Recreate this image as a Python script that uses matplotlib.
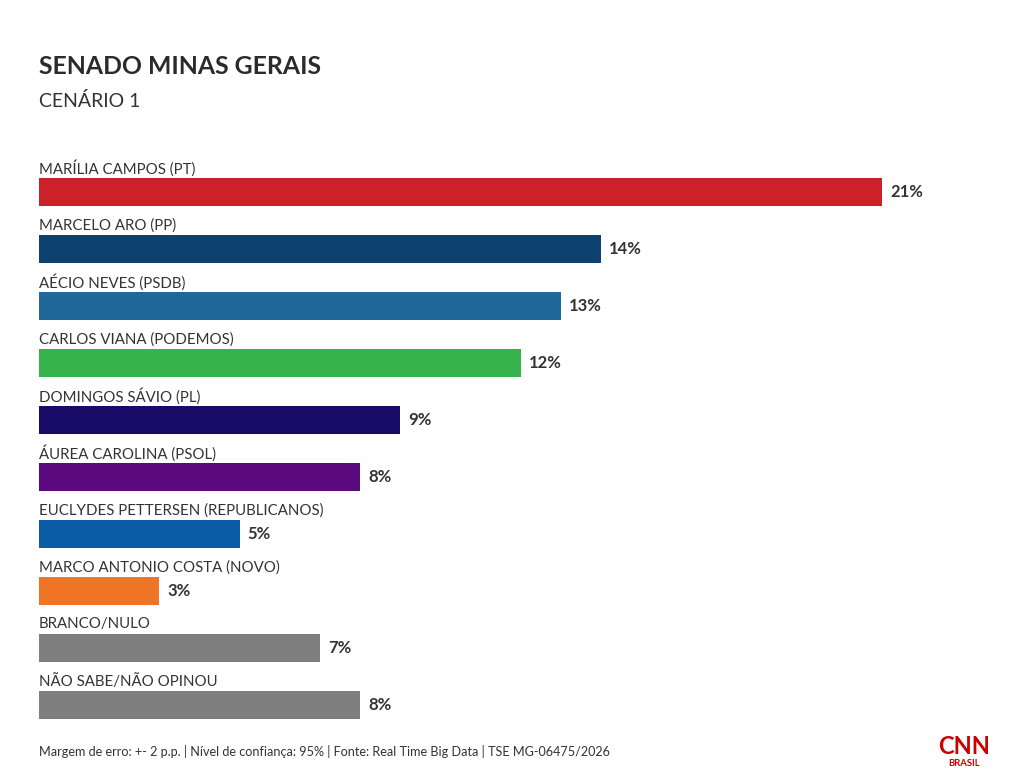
import matplotlib
matplotlib.use("Agg")
import matplotlib.pyplot as plt

plt.rcParams['font.family'] = ['Lato', 'DejaVu Sans']

categories = [
    "MARÍLIA CAMPOS (PT)",
    "MARCELO ARO (PP)",
    "AÉCIO NEVES (PSDB)",
    "CARLOS VIANA (PODEMOS)",
    "DOMINGOS SÁVIO (PL)",
    "ÁUREA CAROLINA (PSOL)",
    "EUCLYDES PETTERSEN (REPUBLICANOS)",
    "MARCO ANTONIO COSTA (NOVO)",
    "BRANCO/NULO",
    "NÃO SABE/NÃO OPINOU",
]
values = [21, 14, 13, 12, 9, 8, 5, 3, 7, 8]
colors = ["#CC2129", "#0E4170", "#1F6899", "#36B44B", "#170B66",
          "#5A0A7C", "#0B5CA6", "#F07425", "#7F7F7F", "#7F7F7F"]

W, H = 1020, 780
fig = plt.figure(figsize=(W / 100, H / 100), dpi=100)
fig.patch.set_facecolor("white")

px_per_unit = 40.14
left_px, right_px = 39, 1000
top_px, bottom_px = 135, 762
ax = fig.add_axes([left_px / W, 1 - bottom_px / H,
                   (right_px - left_px) / W, (bottom_px - top_px) / H])
ax.set_xlim(0, (right_px - left_px) / px_per_unit)
ax.set_ylim(10, -1)
ax.axis("off")

ys = list(range(len(categories)))
ax.barh(ys, values, height=28 / 57, color=colors, edgecolor="none")
for y, v, c in zip(ys, values, categories):
    ax.text(0, y - 0.42, c, ha="left", va="center", fontsize=10.8,
            color="#333333")
    ax.text(v + 0.2, y, f"{v}%", ha="left", va="center", fontsize=12,
            fontweight="bold", color="#333333")

fig.text(39 / W, 1 - 66 / H, "SENADO MINAS GERAIS", ha="left", va="center",
         fontsize=17.8, fontweight="bold", color="#2b2b2b")
fig.text(39 / W, 1 - 101 / H, "CENÁRIO 1", ha="left", va="center",
         fontsize=14, color="#333333")
fig.text(39 / W, 1 - 752 / H,
         "Margem de erro: +- 2 p.p. | Nível de confiança: 95% | Fonte: Real Time Big Data | TSE MG-06475/2026",
         ha="left", va="center", fontsize=9.1, color="#333333")
fig.text(964 / W, 1 - 746 / H, "CNN", ha="center", va="center",
         fontsize=17, fontweight="bold", color="#CC0000")
fig.text(964 / W, 1 - 763 / H, "BRASIL", ha="center", va="center",
         fontsize=6.8, fontweight="bold", color="#CC0000")

fig.savefig("out.png", dpi=100, facecolor="white")
